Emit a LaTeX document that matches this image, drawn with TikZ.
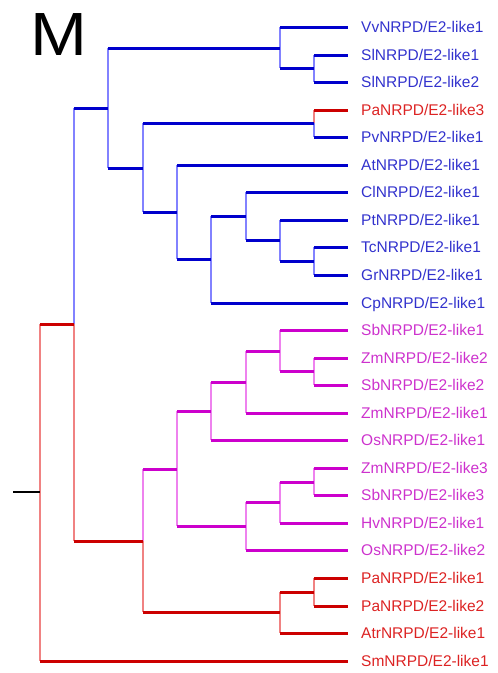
\documentclass[tikz,border=0pt]{standalone}
\usepackage{fontspec}
\newfontfamily\lab{Liberation Sans}
\definecolor{hblue}{RGB}{0,0,204}
\definecolor{vblue}{RGB}{130,130,255}
\definecolor{hred}{RGB}{204,0,0}
\definecolor{vred}{RGB}{240,130,130}
\definecolor{hmag}{RGB}{204,0,204}
\definecolor{vmag}{RGB}{238,130,238}
\definecolor{tblue}{RGB}{50,50,205}
\definecolor{tred}{RGB}{220,35,35}
\definecolor{tmag}{RGB}{205,50,205}
\tikzset{
  hline/.style={line width=3pt, draw=#1},
  vline/.style={line width=1.5pt, draw=#1},
  leaflab/.style={anchor=base west, inner sep=0pt, font=\lab\fontsize{15.5}{18}\selectfont, text=#1},
}
\begin{document}
\begin{tikzpicture}[x=1pt,y=-1pt]
\useasboundingbox (0,0) rectangle (498,673);
% leaves: name / y / text colour / label
\foreach \n/\yy/\c/\t in {
 Vv/27/tblue/VvNRPD\slash E2-like1, SlA/55/tblue/SlNRPD\slash E2-like1, SlB/82/tblue/SlNRPD\slash E2-like2,
 PaC/110/tred/PaNRPD\slash E2-like3, Pv/137/tblue/PvNRPD\slash E2-like1, At/165/tblue/AtNRPD\slash E2-like1,
 Cl/192/tblue/ClNRPD\slash E2-like1, Pt/220/tblue/PtNRPD\slash E2-like1, Tc/247/tblue/TcNRPD\slash E2-like1,
 Gr/275/tblue/GrNRPD\slash E2-like1, Cp/303/tblue/CpNRPD\slash E2-like1, SbA/330/tmag/SbNRPD\slash E2-like1,
 ZmB/358/tmag/ZmNRPD\slash E2-like2, SbB/385/tmag/SbNRPD\slash E2-like2, ZmA/413/tmag/ZmNRPD\slash E2-like1,
 OsA/440/tmag/OsNRPD\slash E2-like1, ZmC/468/tmag/ZmNRPD\slash E2-like3, SbC/495/tmag/SbNRPD\slash E2-like3,
 Hv/523/tmag/HvNRPD\slash E2-like1, OsB/550/tmag/OsNRPD\slash E2-like2, PaA/578/tred/PaNRPD\slash E2-like1,
 PaB/606/tred/PaNRPD\slash E2-like2, Atr/633/tred/AtrNRPD\slash E2-like1, Sm/661/tred/SmNRPD\slash E2-like1}{
  \coordinate (l\n) at (348,\yy);
  \node[leaflab=\c] (t\n) at (361,\yy+5.5) {\t};
}
% internal nodes
\coordinate (nSl) at (314,68);
\coordinate (nVS) at (280,48);
\coordinate (nPP) at (314,123);
\coordinate (nTG) at (314,261);
\coordinate (nPTG) at (280,240);
\coordinate (nCPTG) at (246,216);
\coordinate (nCp) at (211,259);
\coordinate (nAt) at (177,212);
\coordinate (nPPAt) at (143,168);
\coordinate (nBlue) at (108,108);
\coordinate (nZS) at (314,371);
\coordinate (nSbZS) at (280,351);
\coordinate (nZmA) at (246,382);
\coordinate (nOsA) at (211,411);
\coordinate (nZSC) at (314,482);
\coordinate (nHv) at (280,502);
\coordinate (nOsB) at (246,526);
\coordinate (nMag) at (177,469);
\coordinate (nPa) at (314,592);
\coordinate (nAtr) at (280,612);
\coordinate (nRed) at (143,541);
\coordinate (nLA) at (74,324);
\coordinate (root) at (40,492);
\coordinate (stub) at (13,492);
\def\edges{root/nLA/red, root/lSm/red, nLA/nBlue/blue, nLA/nRed/red,
 nBlue/nVS/blue, nBlue/nPPAt/blue, nVS/lVv/blue, nVS/nSl/blue, nSl/lSlA/blue, nSl/lSlB/blue,
 nPPAt/nPP/blue, nPP/lPaC/red, nPP/lPv/blue, nPPAt/nAt/blue, nAt/lAt/blue, nAt/nCp/blue,
 nCp/nCPTG/blue, nCp/lCp/blue, nCPTG/lCl/blue, nCPTG/nPTG/blue, nPTG/lPt/blue, nPTG/nTG/blue,
 nTG/lTc/blue, nTG/lGr/blue,
 nRed/nMag/mag, nRed/nAtr/red, nMag/nOsA/mag, nMag/nOsB/mag, nOsA/nZmA/mag, nOsA/lOsA/mag,
 nZmA/nSbZS/mag, nZmA/lZmA/mag, nSbZS/lSbA/mag, nSbZS/nZS/mag, nZS/lZmB/mag, nZS/lSbB/mag,
 nOsB/nHv/mag, nOsB/lOsB/mag, nHv/nZSC/mag, nHv/lHv/mag, nZSC/lZmC/mag, nZSC/lSbC/mag,
 nAtr/nPa/red, nAtr/lAtr/red, nPa/lPaA/red, nPa/lPaB/red}
% vertical halves first
\foreach \p/\c/\k in \edges { \draw[vline=v\k] (\p) -- (\p |- \c); }
% horizontal branches
\foreach \p/\c/\k in \edges { \draw[hline=h\k] (\p |- \c) -- (\c); }
\draw[line width=2.5pt, black] (stub) -- (root);
\node[anchor=base west, inner sep=0pt, font=\lab\fontsize{61}{61}\selectfont] (lbl) at (30,55) {\scalebox{1.12}[1]{M}};
\end{tikzpicture}
\end{document}
